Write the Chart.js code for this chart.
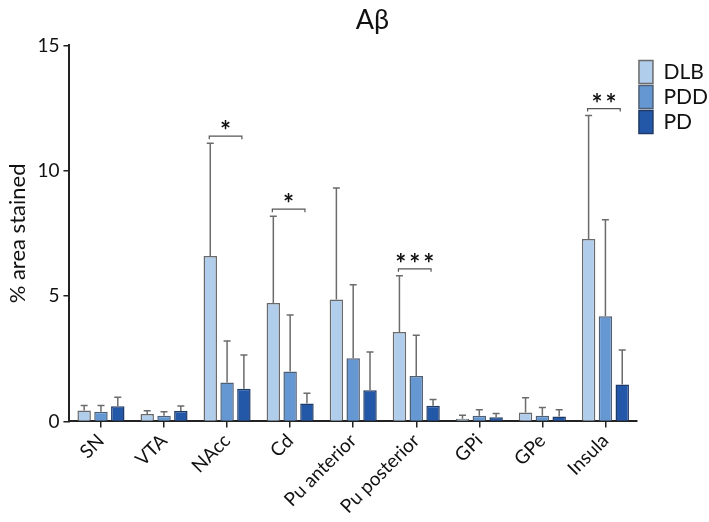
<!DOCTYPE html>
<html>
<head>
<meta charset="utf-8">
<script src="https://cdn.jsdelivr.net/npm/chart.js@4/dist/chart.umd.min.js"></script>
<style>
  body { margin: 0; background: #fff; }
  #wrap { width: 709px; height: 522px; }
</style>
</head>
<body>
<div id="wrap"><canvas id="abChart"></canvas></div>
<script>
const regions = ['SN', 'VTA', 'NAcc', 'Cd', 'Pu anterior', 'Pu posterior', 'GPi', 'GPe', 'Insula'];

// mean % area stained
const dlb = [0.44, 0.30, 6.60, 4.73, 4.87, 3.57, 0.11, 0.36, 7.28];
const pdd = [0.39, 0.23, 1.55, 1.99, 2.52, 1.81, 0.23, 0.23, 4.20];
const pd  = [0.61, 0.42, 1.31, 0.72, 1.25, 0.63, 0.17, 0.20, 1.47];

// upper error (SD)
const dlbSd = [0.20, 0.13, 4.50, 3.46, 4.44, 2.24, 0.14, 0.59, 4.92];
const pddSd = [0.25, 0.16, 1.66, 2.26, 2.93, 1.63, 0.24, 0.33, 3.85];
const pdSd  = [0.36, 0.20, 1.34, 0.41, 1.52, 0.25, 0.15, 0.27, 1.38];

// DLB vs PD significance
const sigMarks = ['', '', '*', '*', '', '***', '', '', '**'];

const FONT = 'Lato, "Open Sans", sans-serif';

const errorBars = {
    id: 'errorBars',
    afterDatasetsDraw(chart) {
        const { ctx } = chart;
        const y = chart.scales.y;
        const errs = [dlbSd, pddSd, pdSd];
        ctx.save();
        ctx.strokeStyle = '#6b6b6b';
        ctx.lineWidth = 1.5;
        chart.data.datasets.forEach((ds, di) => {
            chart.getDatasetMeta(di).data.forEach((bar, i) => {
                const top = y.getPixelForValue(ds.data[i] + errs[di][i]);
                ctx.beginPath();
                ctx.moveTo(bar.x, bar.y);
                ctx.lineTo(bar.x, top);
                ctx.moveTo(bar.x - 3.5, top);
                ctx.lineTo(bar.x + 3.5, top);
                ctx.stroke();
            });
        });

        // brackets + stars
        const m0 = chart.getDatasetMeta(0);
        const m2 = chart.getDatasetMeta(2);
        ctx.strokeStyle = '#555';
        ctx.lineWidth = 1.2;
        ctx.fillStyle = '#111';
        ctx.font = 'bold 26px ' + FONT;
        ctx.textAlign = 'center';
        ctx.textBaseline = 'alphabetic';
        sigMarks.forEach((s, i) => {
            if (!s) return;
            const by = y.getPixelForValue(dlb[i] + dlbSd[i]) - 7;
            const x1 = m0.data[i].x - 1;
            const x2 = m2.data[i].x - 2;
            ctx.beginPath();
            ctx.moveTo(x1, by + 3);
            ctx.lineTo(x1, by);
            ctx.lineTo(x2, by);
            ctx.lineTo(x2, by + 3);
            ctx.stroke();
            const cx = (x1 + x2) / 2;
            for (let k = 0; k < s.length; k++) {
                ctx.fillText('*', cx + (k - (s.length - 1) / 2) * 14, by + 4);
            }
        });
        ctx.restore();
    }
};

new Chart(document.getElementById('abChart'), {
    type: 'bar',
    data: {
        labels: regions,
        datasets: [
            { label: 'DLB', data: dlb, backgroundColor: '#b0cdec', borderColor: '#6a6a6a', borderWidth: 1.5 },
            { label: 'PDD', data: pdd, backgroundColor: '#6598d3', borderColor: '#4f5f75', borderWidth: 1.5 },
            { label: 'PD',  data: pd,  backgroundColor: '#2357a8', borderColor: '#203a66', borderWidth: 1.5 }
        ]
    },
    options: {
        responsive: true,
        maintainAspectRatio: false,
        animation: false,
        layout: { padding: { left: 3, right: -9, top: 0, bottom: 2 } },
        datasets: { bar: { categoryPercentage: 0.8, barPercentage: 0.8 } },
        plugins: {
            title: {
                display: true,
                text: '\u2003\u2009Aβ',
                color: '#111',
                font: { family: FONT, size: 27, weight: 'normal' },
                padding: { top: 4, bottom: 9 }
            },
            legend: {
                position: 'right',
                align: 'start',
                fullSize: false,
                title: { display: true, text: ' ', font: { size: 1 }, padding: { top: 6, bottom: 6 } },
                labels: {
                    color: '#111',
                    font: { family: FONT, size: 21 },
                    boxWidth: 14,
                    boxHeight: 23,
                    padding: 2
                }
            },
            tooltip: { enabled: false }
        },
        scales: {
            x: {
                offset: true,
                grid: { display: true, offset: false, drawOnChartArea: false, tickLength: 6, color: '#222', lineWidth: 1.5 },
                border: { color: '#222', width: 2 },
                ticks: { color: '#111', font: { family: FONT, size: 19 }, maxRotation: 45, minRotation: 45, padding: 2 }
            },
            y: {
                min: 0,
                max: 15,
                ticks: { stepSize: 5, color: '#111', font: { family: FONT, size: 19 }, padding: 4 },
                grid: { drawOnChartArea: false, tickLength: 6, color: '#222', lineWidth: 1.5 },
                border: { color: '#222', width: 2 },
                title: { display: true, text: '% area stained', color: '#111', font: { family: FONT, size: 22 }, padding: { top: 2, bottom: 2 } }
            }
        }
    },
    plugins: [errorBars]
});
</script>
</body>
</html>
